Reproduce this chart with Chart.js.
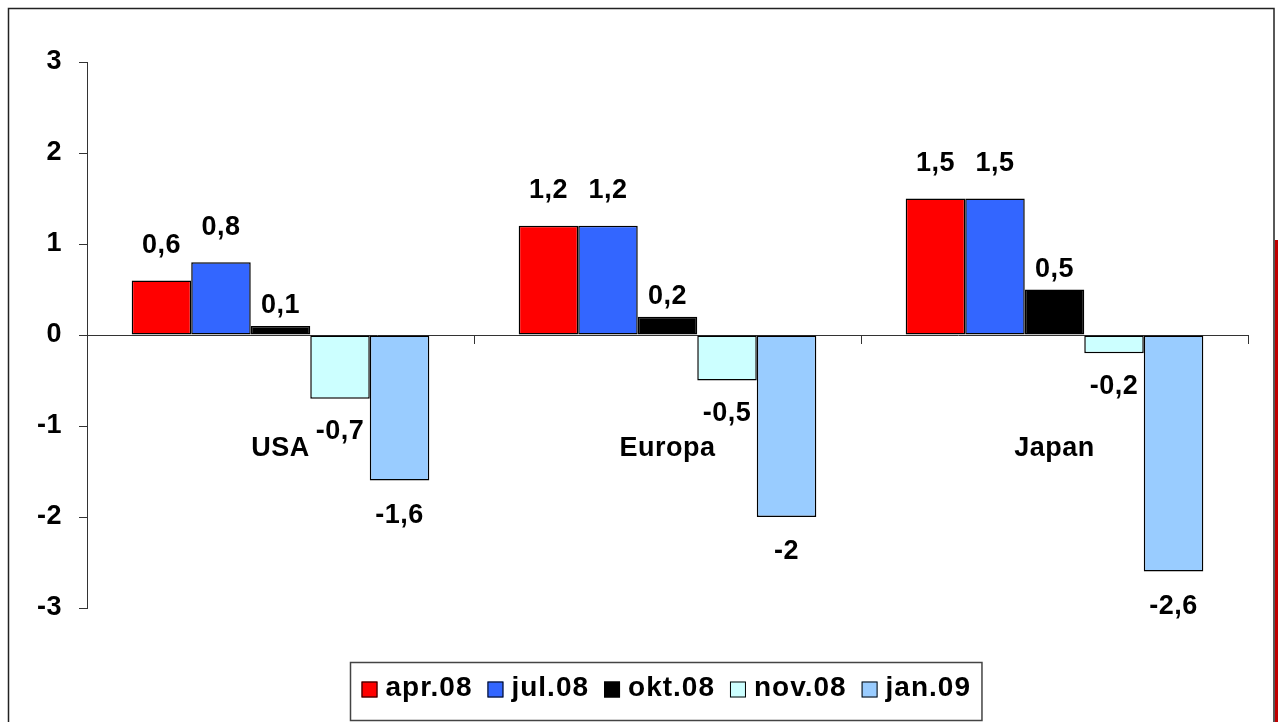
<!DOCTYPE html>
<html lang="no">
<head>
  <meta charset="UTF-8" />
  <title>USA / Europa / Japan</title>
  <script src="https://cdn.jsdelivr.net/npm/chart.js"></script>
  <style>
    html,body{margin:0;padding:0;background:#fff;overflow:hidden;}
    #wrap{width:1278px;height:722px;}
  </style>
</head>
<body>
  <div id="wrap"><canvas id="chart" width="1278" height="722"></canvas></div>
  <script>
    // data
    const categories = ['USA', 'Europa', 'Japan'];
    const seriesNames = ['apr.08', 'jul.08', 'okt.08', 'nov.08', 'jan.09'];
    const apr08 = [0.6, 1.2, 1.5];
    const jul08 = [0.8, 1.2, 1.5];
    const okt08 = [0.1, 0.2, 0.5];
    const nov08 = [-0.7, -0.5, -0.2];
    const jan09 = [-1.6, -2, -2.6];
    const yMin = -3, yMax = 3, yStep = 1;

    const colors = ['#ff0000', '#3366ff', '#000000', '#ccffff', '#99ccff'];
    const FAMILY = '"Liberation Sans", Arial, sans-serif';
    const FONT = 'bold 27px ' + FAMILY;
    const LEGEND_FONT = 'bold 28px ' + FAMILY;
    const SPACING = '0.5px';

    const fmt = v => String(v).replace('.', ',');

    const mkSet = (i, data, gap) => ({
      label: seriesNames[i], data,
      backgroundColor: colors[i], borderColor: '#000', borderWidth: 1.5,
      borderSkipped: false, categoryPercentage: 0.769, barPercentage: 1.0,
      labelGap: gap
    });

    // frame + red edge like the original slide
    const frame = {
      id: 'frame',
      beforeDraw(chart) {
        const c = chart.ctx;
        c.letterSpacing = SPACING;
        c.save();
        c.fillStyle = '#fff';
        c.fillRect(0, 0, chart.width, chart.height);
        c.strokeStyle = '#222';
        c.lineWidth = 1.5;
        c.strokeRect(8.5, 8.5, 1265.5, 800);
        c.fillStyle = '#c00000';
        c.fillRect(1275, 240, 3, 482);
        c.restore();
      }
    };

    // value labels at bar ends
    const valueLabels = {
      id: 'valueLabels',
      afterDatasetsDraw(chart) {
        const c = chart.ctx;
        c.save();
        c.font = FONT;
        c.letterSpacing = SPACING;
        c.fillStyle = '#000';
        c.textAlign = 'center';
        c.textBaseline = 'middle';
        chart.data.datasets.forEach((ds, i) => {
          chart.getDatasetMeta(i).data.forEach((bar, j) => {
            const v = ds.data[j];
            const y = v >= 0 ? bar.y - ds.labelGap : bar.y + ds.labelGap;
            c.fillText(fmt(v), bar.x, y);
          });
        });
        c.restore();
      }
    };

    // boxed legend under the plot
    const boxLegend = {
      id: 'boxLegend',
      afterDraw(chart) {
        const c = chart.ctx, a = chart.chartArea;
        c.save();
        c.font = LEGEND_FONT;
        c.letterSpacing = '1px';
        const sw = 16, sh = 16, g1 = 8, g2 = 15;
        const items = chart.data.datasets.map(ds => ({ ds, w: c.measureText(ds.label).width }));
        const total = items.reduce((s, it) => s + sw + g1 + it.w, 0) + g2 * (items.length - 1);
        const boxW = total + 22, boxH = 58;
        const bx = Math.round((a.left + a.right) / 2 - boxW / 2) - 1.5;
        const by = a.bottom + 54.5;
        c.strokeStyle = '#444';
        c.lineWidth = 1.5;
        c.strokeRect(bx, by, boxW, boxH);
        let x = bx + 11;
        const cy = by + 27;
        c.textBaseline = 'middle';
        c.textAlign = 'left';
        items.forEach(it => {
          c.fillStyle = it.ds.backgroundColor;
          c.fillRect(x, cy - sh / 2, sw, sh);
          c.strokeStyle = '#000';
          c.lineWidth = 1;
          c.strokeRect(x + 0.5, cy - sh / 2 + 0.5, sw - 1, sh - 1);
          c.fillStyle = '#000';
          c.fillText(it.ds.label, x + sw + g1, cy - 1);
          x += sw + g1 + it.w + g2;
        });
        c.restore();
      }
    };

    Chart.defaults.font.family = FAMILY;
    Chart.defaults.color = '#000';

    new Chart(document.getElementById('chart').getContext('2d'), {
      type: 'bar',
      data: {
        labels: categories,
        datasets: [
          mkSet(0, apr08, 35),
          mkSet(1, jul08, 35),
          mkSet(2, okt08, 20),
          mkSet(3, nov08, 33),
          mkSet(4, jan09, 35)
        ]
      },
      options: {
        responsive: false,
        animation: false,
        layout: { padding: { top: 62, right: 30, bottom: 114, left: 0 } },
        plugins: { legend: { display: false }, tooltip: { enabled: false } },
        scales: {
          x: {
            position: { y: 0 },
            grid: { drawOnChartArea: false, tickLength: 8, color: '#333', offset: true },
            border: { color: '#333', width: 1 },
            ticks: { padding: 89, font: { size: 27, weight: 'bold' }, color: '#000' }
          },
          y: {
            min: yMin, max: yMax,
            grid: { drawOnChartArea: false, tickLength: 8, color: '#333' },
            border: { color: '#333', width: 1 },
            ticks: { stepSize: yStep, padding: 17, font: { size: 27, weight: 'bold' }, color: '#000' },
            afterFit(scale) { scale.width = 87; }
          }
        }
      },
      plugins: [frame, valueLabels, boxLegend]
    });
  </script>
</body>
</html>
